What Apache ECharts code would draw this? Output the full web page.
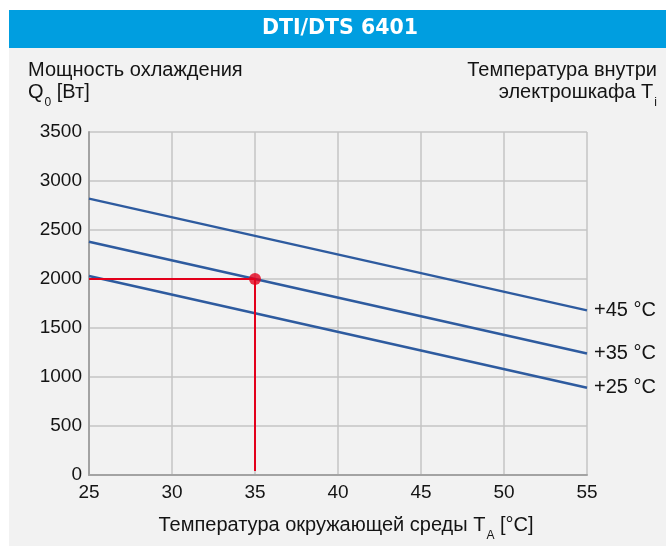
<!DOCTYPE html>
<html>
<head>
<meta charset="utf-8">
<script src="https://cdn.jsdelivr.net/npm/echarts@6/dist/echarts.min.js"></script>
<style>html,body{margin:0;padding:0;background:#fff;}#c{width:666px;height:546px;}</style>
</head>
<body>
<div id="c"></div>
<script>
// ---- data ----
const titleText = 'DTI/DTS 6401';
const ambientTemp = [25, 55];              // x: Температура окружающей среды, °C
const q45 = [2820, 1680];                  // Ti = +45 °C
const q35 = [2380, 1240];                  // Ti = +35 °C
const q25 = [2030, 890];                   // Ti = +25 °C
const curveNames = ['+45 °C', '+35 °C', '+25 °C'];
const opLineX = [25, 35, 35];              // operating point guide (red)
const opLineY = [2000, 2000, 40];
const opPoint = [35, 2000];
const xMin = 25, xMax = 55, xStep = 5;
const yMin = 0, yMax = 3500, yStep = 500;

const FONT = '"Liberation Sans", Arial, sans-serif';
const TXT = '#141414';
const BLUE = '#2e5b9f';
const RED = '#e3001b';

const pairs = (xs, ys) => xs.map((x, i) => [x, ys[i]]);

const chart = echarts.init(document.getElementById('c'), null, {renderer: 'canvas'});

function curve(name, ys) {
  return {
    type: 'line', name: name, data: pairs(ambientTemp, ys),
    symbol: 'none', silent: true, z: 3,
    lineStyle: {color: BLUE, width: 2.5},
    endLabel: {show: true, formatter: name, distance: 7,
      fontFamily: FONT, fontSize: 20, color: TXT}
  };
}

const option = {
  animation: false,
  backgroundColor: '#ffffff',
  grid: {left: 89, right: 79, top: 132, bottom: 71, containLabel: false},
  xAxis: {
    type: 'value', min: xMin, max: xMax, interval: xStep,
    axisLine: {show: true, lineStyle: {color: '#a3a3a3', width: 2}},
    axisTick: {show: false},
    axisLabel: {fontFamily: FONT, fontSize: 19, color: TXT, margin: 8,
      showMinLabel: true, showMaxLabel: true, formatter: v => String(v)},
    splitLine: {show: true, lineStyle: {color: '#c4c4c4', width: 1.5}}
  },
  yAxis: {
    type: 'value', min: yMin, max: yMax, interval: yStep,
    axisLine: {show: true, lineStyle: {color: '#a3a3a3', width: 2}},
    axisTick: {show: false},
    axisLabel: {fontFamily: FONT, fontSize: 19, color: TXT, margin: 7, formatter: v => String(v)},
    splitLine: {show: true, lineStyle: {color: '#c4c4c4', width: 1.5}}
  },
  graphic: [
    {type: 'rect', z: -10, silent: true, shape: {x: 9, y: 10, width: 657, height: 536}, style: {fill: '#f2f2f2'}},
    {type: 'rect', z: -9, silent: true, shape: {x: 9, y: 10, width: 657, height: 38}, style: {fill: '#009ee0'}},
    {type: 'text', z: 10, silent: true, x: 340, y: 29,
      style: {text: titleText, fill: '#ffffff', font: 'bold 20.5px "DejaVu Sans", sans-serif', align: 'center', verticalAlign: 'middle'}},
    {type: 'text', z: 10, silent: true, x: 28, y: 58,
      style: {text: 'Мощность охлаждения', fill: TXT, fontFamily: FONT, fontSize: 20, lineHeight: 24, align: 'left', verticalAlign: 'top'}},
    {type: 'text', z: 10, silent: true, x: 28, y: 82,
      style: {text: '{m|Q}{s|0}{m| [Вт]}', align: 'left', verticalAlign: 'top',
        rich: {m: {fontFamily: FONT, fontSize: 20, lineHeight: 24, verticalAlign: 'top', fill: TXT, color: TXT},
               s: {fontFamily: FONT, fontSize: 12, lineHeight: 12, padding: [15, 0, 0, 1], verticalAlign: 'top', fill: TXT, color: TXT}}}},
    {type: 'text', z: 10, silent: true, x: 657, y: 58,
      style: {text: 'Температура внутри', fill: TXT, fontFamily: FONT, fontSize: 20, lineHeight: 24, align: 'right', verticalAlign: 'top'}},
    {type: 'text', z: 10, silent: true, x: 657, y: 82,
      style: {text: '{m|электрошкафа T}{s|i}', align: 'right', verticalAlign: 'top',
        rich: {m: {fontFamily: FONT, fontSize: 20, lineHeight: 24, verticalAlign: 'top', fill: TXT, color: TXT},
               s: {fontFamily: FONT, fontSize: 12, lineHeight: 12, padding: [15, 0, 0, 1], verticalAlign: 'top', fill: TXT, color: TXT}}}},
    {type: 'text', z: 10, silent: true, x: 346, y: 515,
      style: {text: '{m|Температура окружающей среды T}{s|A}{m| [°C]}', align: 'center', verticalAlign: 'top',
        rich: {m: {fontFamily: FONT, fontSize: 20, lineHeight: 24, verticalAlign: 'top', fill: TXT, color: TXT},
               s: {fontFamily: FONT, fontSize: 12, lineHeight: 12, padding: [15, 0, 0, 1], verticalAlign: 'top', fill: TXT, color: TXT}}}}
  ],
  series: [
    curve(curveNames[0], q45),
    curve(curveNames[1], q35),
    curve(curveNames[2], q25),
    {type: 'line', data: pairs(opLineX, opLineY), symbol: 'none', silent: true, z: 4,
      lineStyle: {color: RED, width: 2}},
    {type: 'scatter', data: [opPoint], symbol: 'circle', symbolSize: 12, silent: true, z: 5,
      itemStyle: {color: RED}}
  ]
};
chart.setOption(option);
</script>
</body>
</html>
